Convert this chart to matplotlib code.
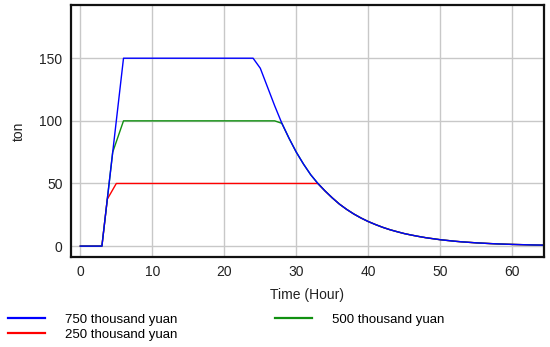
import matplotlib
matplotlib.use("Agg")
import matplotlib.pyplot as plt

plt.rcParams['font.family'] = ['Liberation Sans', 'DejaVu Sans']

# decay part shared by all series
tail_t = [28, 29, 30, 31, 32, 33, 34, 35, 36, 37, 38, 39, 40, 41, 42, 43, 44, 45,
          46, 47, 48, 49, 50, 51, 52, 53, 54, 55, 56, 57, 58, 59, 60, 61, 62, 63, 64, 65]
tail_v = [98, 86, 75, 65.5, 57, 50, 44, 38.5, 33.5, 29.3, 25.6, 22.4, 19.6, 17.2, 15, 13.1, 11.5, 10,
          8.8, 7.7, 6.7, 5.9, 5.1, 4.5, 3.9, 3.4, 3.0, 2.6, 2.3, 2.0, 1.75, 1.55, 1.35, 1.2,
          1.05, 0.9, 0.8, 0.7]

t_750 = [0, 3, 6, 24, 25, 26, 27] + tail_t
v_750 = [0, 0, 150, 150, 142, 127, 112] + tail_v

t_500 = [0, 3, 4.5, 6, 27] + tail_t
v_500 = [0, 0, 75, 100, 100] + tail_v

t_250 = [0, 3, 3.75, 5] + tail_t[5:]
v_250 = [0, 0, 37.5, 50] + tail_v[5:]

labels = ["750 thousand yuan", "250 thousand yuan", "500 thousand yuan"]

fig = plt.figure(figsize=(5.5, 3.47), dpi=100)
ax = fig.add_axes([0.129, 0.259, 0.86, 0.727])

l2, = ax.plot(t_250, v_250, color="#ff0000", lw=1, label=labels[1])
l3, = ax.plot(t_500, v_500, color="#109010", lw=1, label=labels[2])
l1, = ax.plot(t_750, v_750, color="#0000ff", lw=1, label=labels[0])

ax.set_xlim(-1.3, 64.4)
ax.set_ylim(-8.8, 192.6)
ax.set_xticks([0, 10, 20, 30, 40, 50, 60])
ax.set_yticks([0, 50, 100, 150])
ax.grid(True, color="#c8c8c8", lw=1)
ax.set_axisbelow(True)
for s in ax.spines.values():
    s.set_linewidth(1.6)
    s.set_color("#111111")
ax.tick_params(length=0, labelsize=10, pad=6, colors="#222222")
ax.set_xlabel("Time (Hour)", fontsize=10, color="#222222", labelpad=6)
ax.set_ylabel("ton", fontsize=10, color="#222222", labelpad=10)

leg = fig.legend([l1, l2, l3], labels, loc="lower left", bbox_to_anchor=(0.005, 0.003),
                 ncol=2, frameon=False, fontsize=9.5, handlelength=2.8, handletextpad=1.5,
                 columnspacing=7.4, labelspacing=0.2, borderpad=0.3, borderaxespad=0.1)
for h in leg.get_lines():
    h.set_linewidth(1.6)

fig.savefig("out.png", dpi=100)
